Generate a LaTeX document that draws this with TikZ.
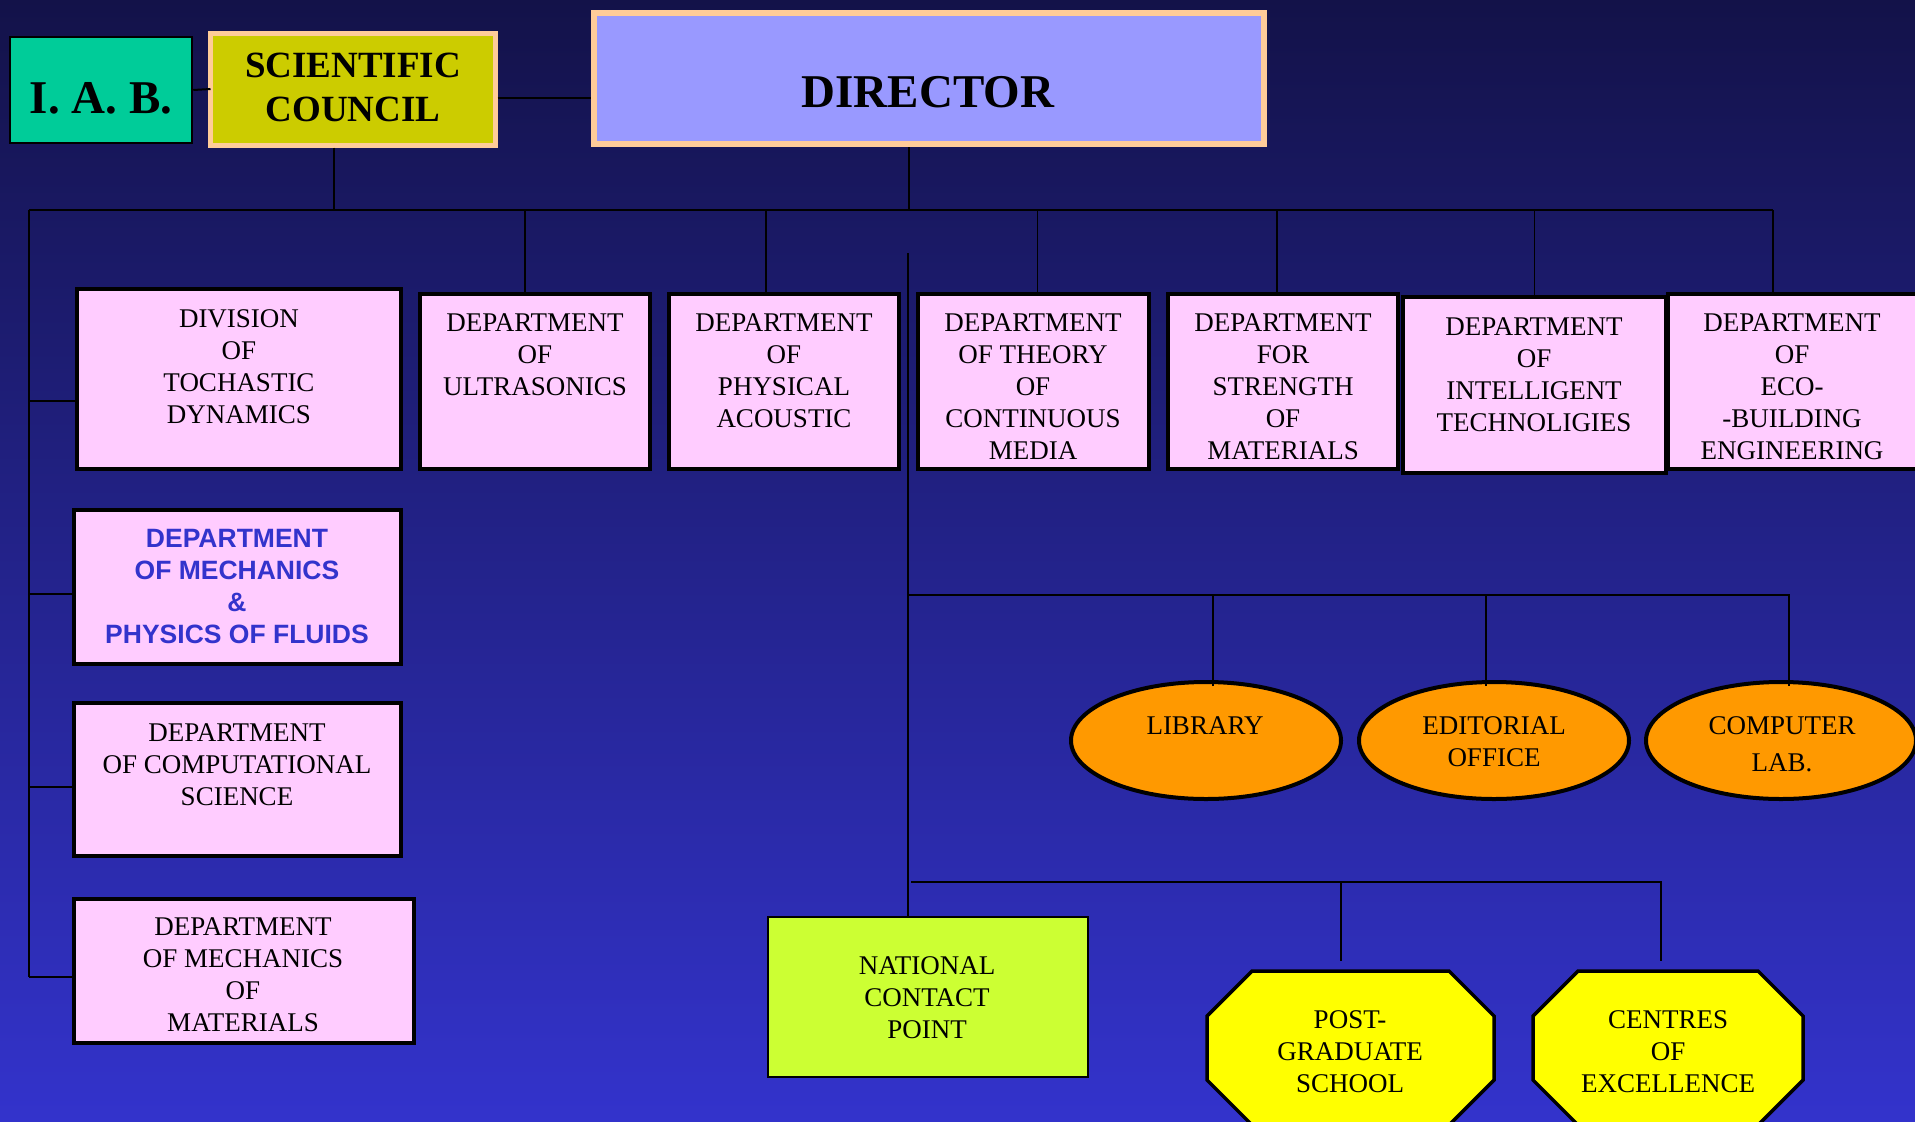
\documentclass[tikz,border=0pt]{standalone}
\usepackage{fontspec}
\setmainfont{Liberation Serif}
\newfontfamily\arialfont{Liberation Sans}
\usetikzlibrary{fit,shapes.geometric}
\definecolor{bgtop}{HTML}{131249}
\definecolor{bgbot}{HTML}{3333CC}
\definecolor{pinkfill}{HTML}{FFCCFF}
\definecolor{peach}{HTML}{FFCC99}
\definecolor{dirfill}{HTML}{9999FF}
\definecolor{scfill}{HTML}{CCCC00}
\definecolor{iabfill}{HTML}{00CC99}
\definecolor{orangefill}{HTML}{FF9900}
\definecolor{ncpfill}{HTML}{CCFF33}
\definecolor{octfill}{HTML}{FFFF00}
\definecolor{bluetext}{HTML}{3333CC}
\begin{document}
\begin{tikzpicture}[x=1pt,y=-1pt,
  pinkbox/.style={draw=black, line width=4pt, fill=pinkfill, inner sep=0pt},
  txt/.style={align=center, inner sep=0pt, font=\fontsize{27}{32}\selectfont},
  bluetxt/.style={align=center, inner sep=0pt, text=bluetext, font=\arialfont\bfseries\fontsize{26.5}{32}\selectfont},
  oval/.style={ellipse, draw=black, line width=4pt, fill=orangefill, minimum width=270pt, minimum height=117pt, inner sep=0pt},
  octo/.style={draw=black, line width=3.5pt, fill=octfill, line join=miter},
  link/.style={draw=black, line width=2pt},
  thinlink/.style={draw=black, line width=1.6pt}]
\useasboundingbox (0,0) rectangle (1915,1122);
\clip (0,0) rectangle (1915,1122);
\shade[top color=bgtop, bottom color=bgbot] (0,0) rectangle (1915,1122);

% top row
\node[draw=black, line width=2.5pt, fill=iabfill, inner sep=0pt, fit={(10,37)(192,143)}] (iab) {};
\node[inner sep=0pt, font=\bfseries\fontsize{47}{50}\selectfont] (iabT) at (101,98) {I. A. B.};
\node[draw=peach, line width=5pt, fill=scfill, inner sep=0pt, fit={(210,33)(495,145)}] (sc) {};
\node[align=center, inner sep=0pt, font=\bfseries\fontsize{37}{44}\selectfont] (scT) at (353,87) {SCIENTIFIC\\COUNCIL};
\node[draw=peach, line width=6pt, fill=dirfill, inner sep=0pt, fit={(594,13)(1264,144)}] (dir) {};
\node[inner sep=0pt, font=\bfseries\fontsize{47}{50}\selectfont] (dirT) at (928,92) {DIRECTOR};

\draw[link] (iab.east) -- ([xshift=3pt]sc.west);
\draw[link] ([yshift=-9pt]sc.east) -- ([yshift=-9pt]sc.east -| dir.west);

% bus
\coordinate (busL) at (29,210);
\coordinate (busR) at (1773,210);
\draw[link] (busL) -- (busR);
\draw[link] ([xshift=-19pt]sc.south) -- ([xshift=-19pt]sc.south |- busL);
\draw[link] ([xshift=-20pt]dir.south) -- ([xshift=-20pt]dir.south |- busL);

% row 1 boxes
\node[pinkbox, fit={(77,289)(401,469)}] (div) {};
\node[txt] (divT) at (239,367) {DIVISION\\OF\\TOCHASTIC\\DYNAMICS};
\node[pinkbox, fit={(420,294)(650,469)}] (ult) {};
\node[txt] (ultT) at (535,355) {DEPARTMENT\\OF\\ULTRASONICS};
\node[pinkbox, fit={(669,294)(899,469)}] (phy) {};
\node[txt] (phyT) at (784,371) {DEPARTMENT\\OF\\PHYSICAL\\ACOUSTIC};
\node[pinkbox, fit={(918,294)(1149,469)}] (the) {};
\node[txt] (theT) at (1033,386.5) {DEPARTMENT\\OF THEORY\\OF\\CONTINUOUS\\MEDIA};
\node[pinkbox, fit={(1168,294)(1398,469)}] (str) {};
\node[txt] (strT) at (1283,386.5) {DEPARTMENT\\FOR\\STRENGTH\\OF\\MATERIALS};
\node[pinkbox, fit={(1403,297)(1666,473)}] (int) {};
\node[txt] (intT) at (1534,374.5) {DEPARTMENT\\OF\\INTELLIGENT\\TECHNOLIGIES};
\node[pinkbox, fit={(1668,294)(1918,469)}] (eco) {};
\node[txt] (ecoT) at (1792,386.5) {DEPARTMENT\\OF\\ECO-\\-BUILDING\\ENGINEERING};

\draw[thinlink] ([xshift=-10pt]ult.north) -- ([xshift=-10pt]ult.north |- busL);
\draw[thinlink] ([xshift=-18pt]phy.north) -- ([xshift=-18pt]phy.north |- busL);
\draw[thinlink] ([xshift=4pt]the.north) -- ([xshift=4pt]the.north |- busL);
\draw[thinlink] ([xshift=-6pt]str.north) -- ([xshift=-6pt]str.north |- busL);
\draw[thinlink] (int.north) -- (int.north |- busL);
\draw[thinlink] ([xshift=-20pt]eco.north) -- (busR);

% left column
\node[pinkbox, fit={(74,510)(401,664)}] (mfl) {};
\node[bluetxt] (mflT) at (237,587) {DEPARTMENT\\OF MECHANICS\\\&\\PHYSICS OF FLUIDS};
\node[pinkbox, fit={(74,703)(401,856)}] (cmp) {};
\node[txt] (cmpT) at (237,764.5) {DEPARTMENT\\OF COMPUTATIONAL\\SCIENCE};
\node[pinkbox, fit={(74,899)(414,1043)}] (mat) {};
\node[txt] (matT) at (243,975) {DEPARTMENT\\OF MECHANICS\\OF\\MATERIALS};

\draw[link] (busL) -- ([yshift=-6pt]mat.west -| busL);
\draw[link] ([yshift=-22pt]div.west -| busL) -- ([yshift=-22pt]div.west);
\draw[link] ([yshift=-7pt]mfl.west -| busL) -- ([xshift=3pt,yshift=-7pt]mfl.west);
\draw[link] ([yshift=-7pt]cmp.west -| busL) -- ([xshift=3pt,yshift=-7pt]cmp.west);
\draw[link] ([yshift=-6pt]mat.west -| busL) -- ([xshift=3pt,yshift=-6pt]mat.west);

% service units
\node[oval] (lib) at (1206,740.5) {};
\node[txt] (libT) at (1205,726) {LIBRARY};
\node[oval] (edi) at (1494,740.5) {};
\node[txt] (ediT) at (1494,742) {EDITORIAL\\OFFICE};
\node[oval] (cla) at (1781,740.5) {};
\node[txt] (claT) at (1782,744.5) {COMPUTER\\[5pt]LAB.};

\node[draw=black, line width=2pt, fill=ncpfill, inner sep=0pt, fit={(768,917)(1088,1077)}] (ncp) {};
\node[txt] (ncpT) at (927,997.5) {NATIONAL\\CONTACT\\POINT};

\coordinate (ctop) at (908,253);
\draw[thinlink] (ctop) -- (ctop |- ncp.north);

\coordinate (busB) at (909,595);
\draw[thinlink] (busB) -| ([xshift=8pt,yshift=-6pt]cla.north);
\draw[thinlink] ([xshift=7pt,yshift=-6pt]lib.north) -- ([xshift=7pt]lib.north |- busB);
\draw[thinlink] ([xshift=-8pt,yshift=-6pt]edi.north) -- ([xshift=-8pt]edi.north |- busB);

% octagons
\draw[octo] (1252,971) -- (1449,971) -- (1494,1016) -- (1494,1080) -- (1449,1125) -- (1252,1125) -- (1207,1080) -- (1207,1016) -- cycle;
\draw[octo] (1578,971) -- (1758,971) -- (1803,1016) -- (1803,1080) -- (1758,1125) -- (1578,1125) -- (1533,1080) -- (1533,1016) -- cycle;
\node[txt] (pgT) at (1350,1051.5) {POST-\\GRADUATE\\SCHOOL};
\node[txt] (coeT) at (1668,1051.5) {CENTRES\\OF\\EXCELLENCE};
\coordinate (pgTop) at (1341,961);
\coordinate (coeTop) at (1661,961);
\coordinate (busC) at (911,882);
\draw[thinlink] (busC) -| (coeTop);
\draw[thinlink] (pgTop) -- (pgTop |- busC);
\end{tikzpicture}
\end{document}
